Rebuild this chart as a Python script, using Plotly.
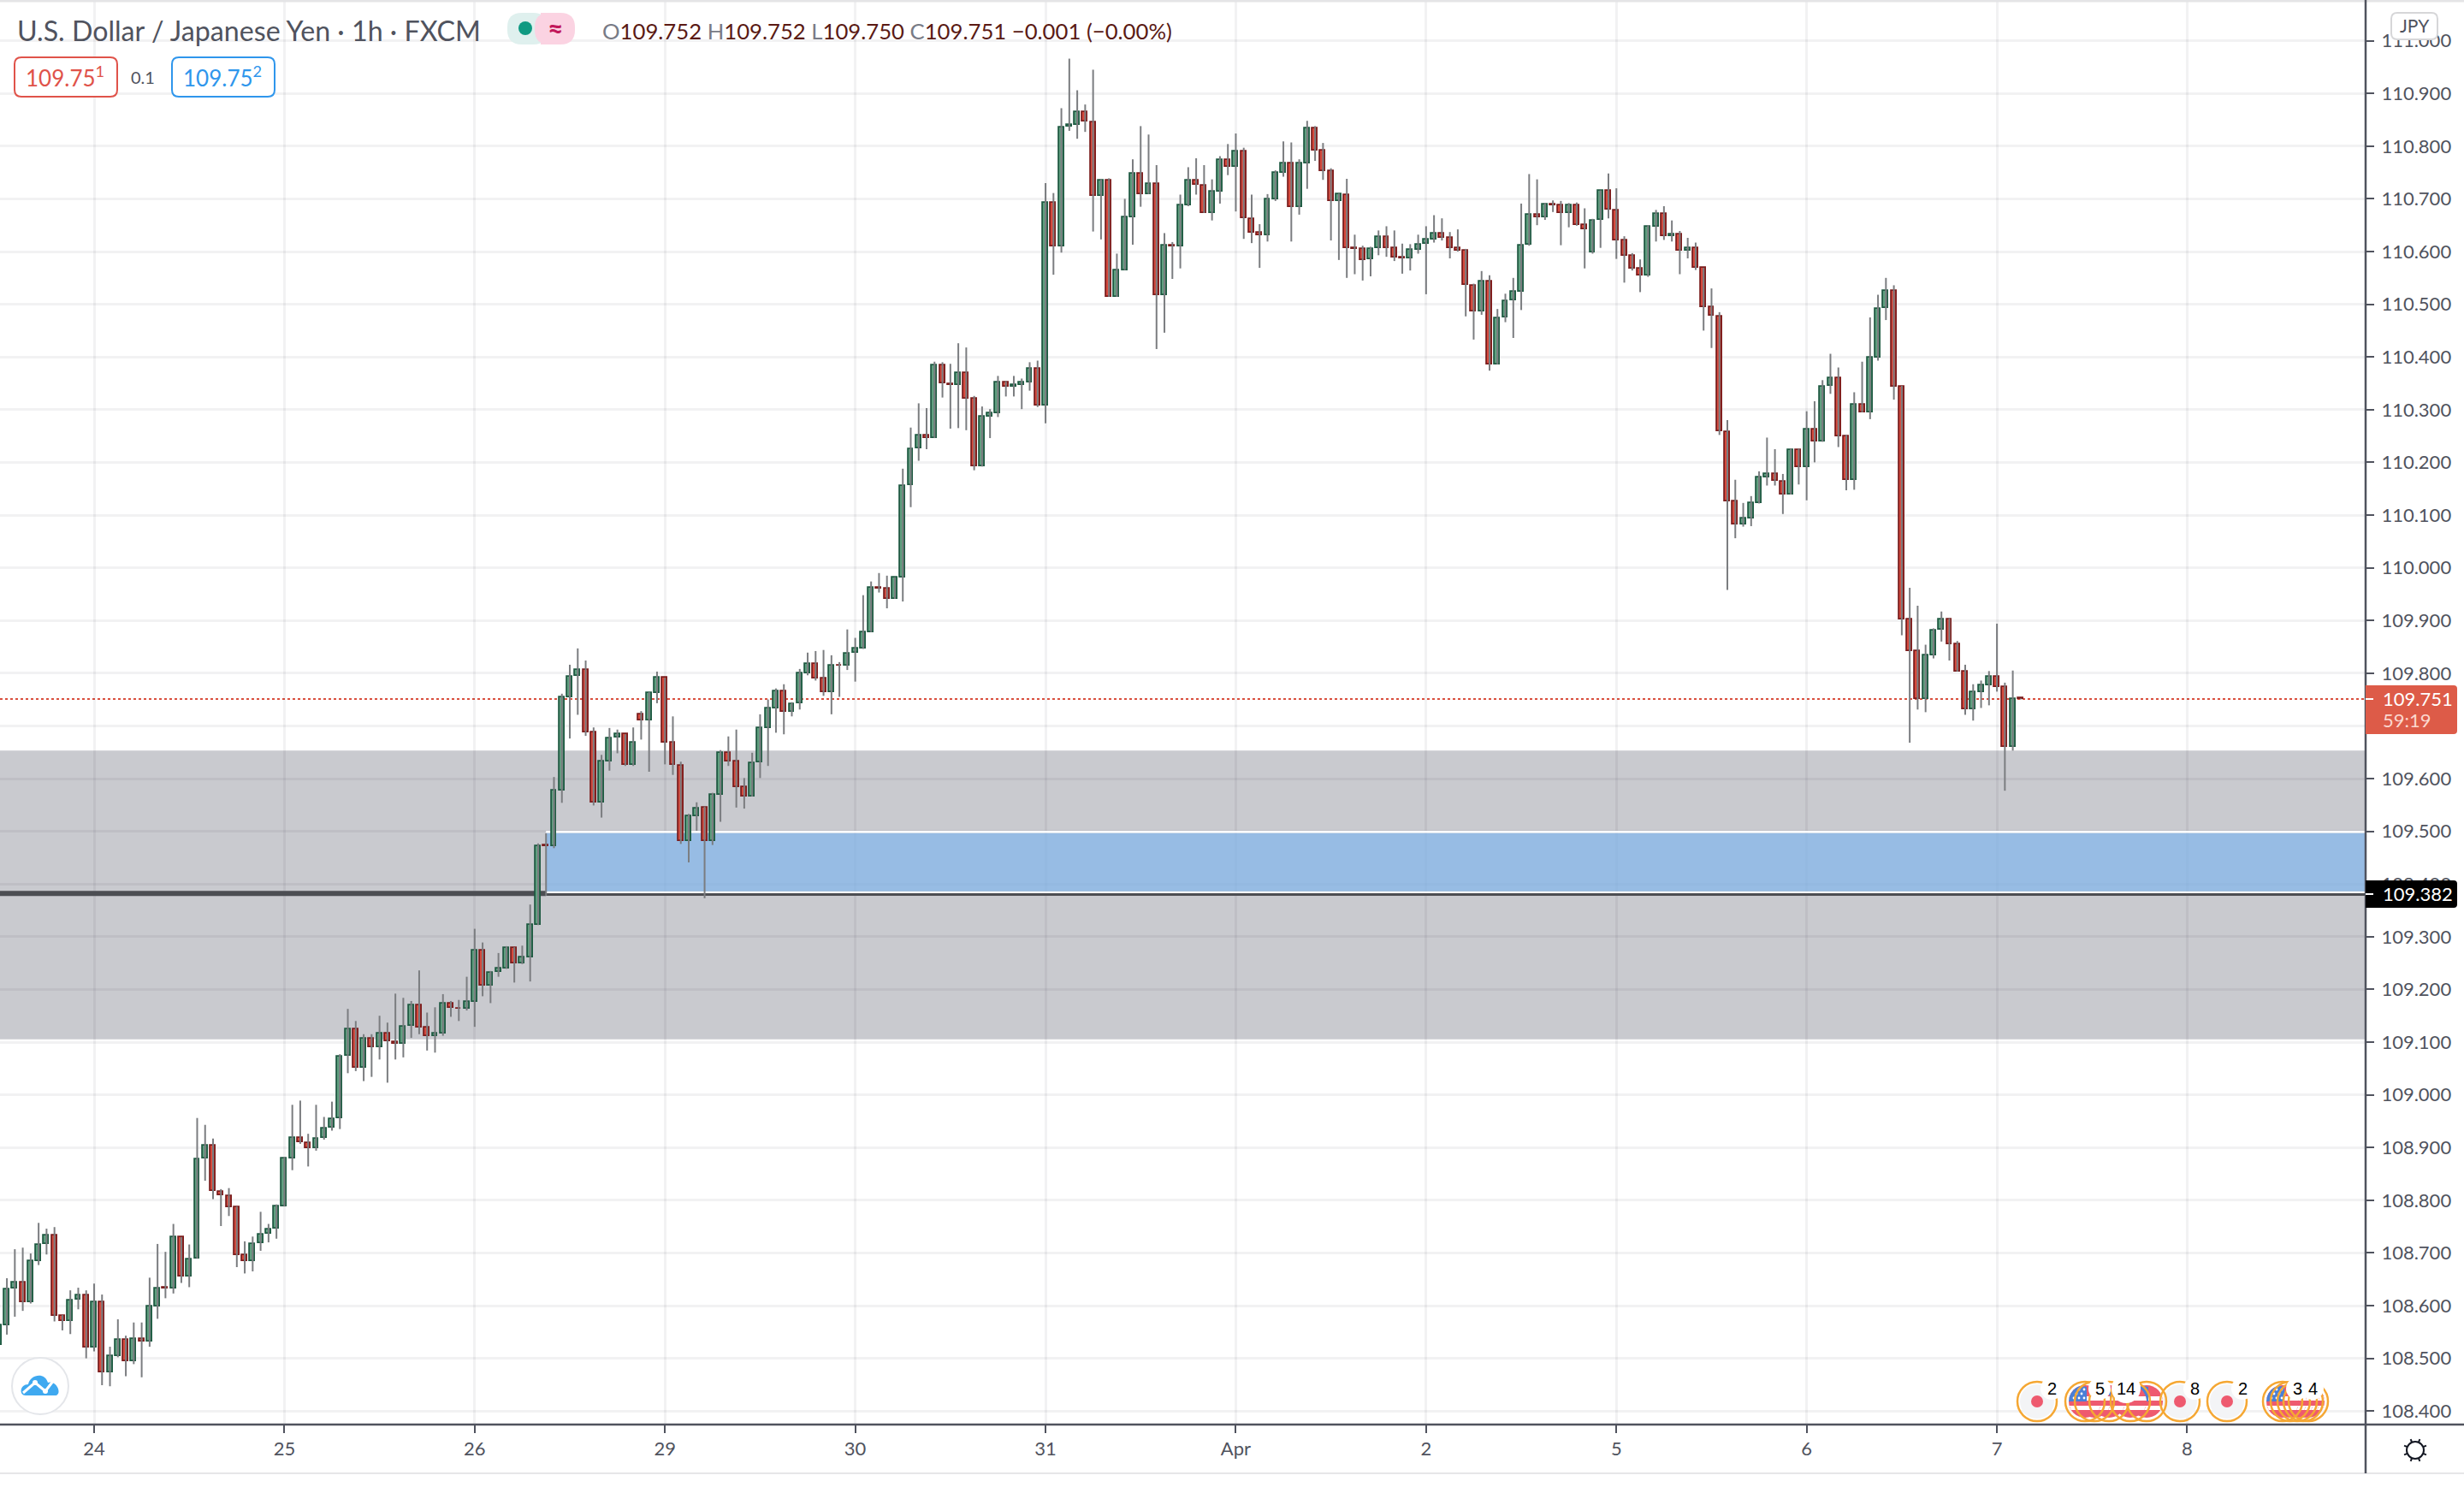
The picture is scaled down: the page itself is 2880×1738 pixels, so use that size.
import math
import plotly.graph_objects as go

# hourly USD/JPY bars, first bar sits 12 hours before the "24" tick
opens = [
    108.525,108.562,108.633,108.644,108.606,108.684,108.717,108.733,108.581,108.570,
    108.611,108.620,108.520,108.606,108.474,108.505,108.535,108.494,108.537,108.532,
    108.599,108.634,108.633,108.730,108.655,108.689,108.879,108.904,108.816,108.808,
    108.786,108.695,108.684,108.718,108.736,108.746,108.788,108.879,108.919,108.909,
    108.898,108.918,108.937,108.956,109.074,109.125,109.051,109.106,109.090,109.117,
    109.100,109.097,109.131,109.170,109.127,109.112,109.116,109.173,109.164,109.164,
    109.177,109.273,109.207,109.233,109.239,109.278,109.249,109.261,109.323,109.473,
    109.472,109.577,109.754,109.795,109.806,109.687,109.555,109.632,109.678,109.684,
    109.626,109.721,109.711,109.762,109.791,109.668,109.625,109.481,109.529,109.545,
    109.481,109.569,109.648,109.632,109.583,109.566,109.631,109.696,109.733,109.765,
    109.727,109.743,109.800,109.817,109.790,109.764,109.815,109.814,109.838,109.847,
    109.878,109.962,109.960,109.941,109.982,110.157,110.226,110.251,110.246,110.384,
    110.349,110.347,110.369,110.321,110.192,110.287,110.294,110.351,110.343,110.346,
    110.352,110.377,110.307,110.692,110.609,110.837,110.841,110.865,110.845,110.705,
    110.734,110.514,110.565,110.665,110.747,110.709,110.729,110.518,110.611,110.609,
    110.688,110.734,110.725,110.673,110.714,110.773,110.760,110.790,110.662,110.636,
    110.631,110.699,110.750,110.767,110.685,110.768,110.834,110.791,110.752,110.696,
    110.707,110.607,110.605,110.585,110.606,110.627,110.606,110.589,110.587,110.604,
    110.614,110.623,110.634,110.626,110.606,110.601,110.535,110.487,110.543,110.386,
    110.475,110.508,110.524,110.613,110.670,110.665,110.689,110.687,110.673,110.688,
    110.650,110.598,110.660,110.716,110.678,110.621,110.592,110.567,110.554,110.647,
    110.671,110.629,110.632,110.602,110.607,110.569,110.494,110.477,110.258,110.126,
    110.082,110.094,110.123,110.172,110.178,110.164,110.139,110.224,110.191,110.262,
    110.239,110.345,110.359,110.249,110.167,110.310,110.295,110.398,110.493,110.525,
    110.343,109.902,109.842,109.751,109.834,109.882,109.902,109.855,109.803,109.731,
    109.764,109.777,109.794,109.773,109.660,109.752,
]
highs = [
    108.565,108.652,108.707,108.710,108.699,108.757,108.746,108.749,108.582,108.629,
    108.634,108.629,108.642,108.621,108.522,108.574,108.543,108.568,108.568,108.653,
    108.717,108.702,108.755,108.730,108.716,108.956,108.943,108.917,108.821,108.823,
    108.788,108.722,108.731,108.778,108.755,108.792,108.882,108.981,108.989,108.926,
    108.981,108.958,108.987,109.077,109.163,109.140,109.115,109.115,109.150,109.137,
    109.192,109.184,109.178,109.236,109.156,109.166,109.191,109.178,109.180,109.224,
    109.315,109.289,109.235,109.269,109.282,109.280,109.283,109.361,109.477,109.496,
    109.603,109.761,109.816,109.847,109.824,109.697,109.645,109.696,109.693,109.684,
    109.697,109.728,109.764,109.803,109.791,109.718,109.632,109.533,109.555,109.547,
    109.573,109.654,109.680,109.693,109.601,109.649,109.722,109.750,109.771,109.779,
    109.745,109.808,109.839,109.842,109.844,109.834,109.821,109.883,109.867,109.948,
    109.974,109.990,109.985,109.982,110.188,110.266,110.312,110.303,110.391,110.390,
    110.387,110.426,110.418,110.326,110.306,110.301,110.364,110.354,110.364,110.359,
    110.390,110.393,110.730,110.711,110.872,110.966,110.906,110.879,110.945,110.737,
    110.739,110.596,110.700,110.775,110.838,110.822,110.764,110.635,110.618,110.708,
    110.760,110.777,110.764,110.737,110.781,110.804,110.824,110.797,110.708,110.652,
    110.709,110.754,110.809,110.807,110.775,110.848,110.838,110.806,110.758,110.710,
    110.738,110.632,110.611,110.609,110.640,110.648,110.640,110.615,110.614,110.632,
    110.648,110.669,110.663,110.637,110.642,110.605,110.539,110.563,110.555,110.491,
    110.520,110.550,110.691,110.747,110.737,110.692,110.697,110.696,110.692,110.693,
    110.682,110.662,110.716,110.748,110.720,110.629,110.597,110.585,110.650,110.679,
    110.686,110.659,110.639,110.626,110.617,110.569,110.530,110.485,110.280,110.167,
    110.123,110.136,110.183,110.247,110.225,110.178,110.226,110.226,110.297,110.316,
    110.356,110.406,110.380,110.252,110.333,110.391,110.475,110.518,110.550,110.536,
    110.345,109.962,109.928,109.854,109.885,109.917,109.904,109.861,109.816,109.779,
    109.786,109.804,109.894,109.782,109.805,109.752,
]
lows = [
    108.500,108.545,108.579,108.590,108.604,108.677,108.697,108.570,108.553,108.546,
    108.593,108.500,108.513,108.449,108.447,108.502,108.466,108.489,108.464,108.522,
    108.575,108.614,108.623,108.643,108.635,108.689,108.837,108.802,108.751,108.770,
    108.673,108.661,108.665,108.704,108.720,108.727,108.788,108.857,108.907,108.864,
    108.894,108.915,108.932,108.935,109.041,109.045,109.026,109.034,109.067,109.023,
    109.067,109.071,109.108,109.115,109.084,109.080,109.112,109.148,109.140,109.160,
    109.129,109.187,109.174,109.224,109.239,109.213,109.248,109.215,109.322,109.378,
    109.468,109.554,109.676,109.721,109.681,109.549,109.526,109.615,109.648,109.624,
    109.624,109.674,109.613,109.743,109.627,109.607,109.476,109.441,109.501,109.373,
    109.474,109.518,109.624,109.545,109.543,109.566,109.601,109.624,109.687,109.684,
    109.718,109.731,109.796,109.786,109.757,109.722,109.755,109.806,109.784,109.846,
    109.878,109.953,109.923,109.941,109.936,110.115,110.203,110.225,110.246,110.323,
    110.264,110.265,110.261,110.185,110.192,110.246,110.286,110.325,110.325,110.301,
    110.336,110.305,110.274,110.556,110.598,110.829,110.814,110.827,110.638,110.623,
    110.514,110.514,110.565,110.613,110.685,110.709,110.415,110.446,110.548,110.568,
    110.686,110.708,110.673,110.659,110.691,110.745,110.676,110.624,110.616,110.569,
    110.619,110.696,110.742,110.619,110.670,110.719,110.772,110.736,110.621,110.584,
    110.550,110.557,110.545,110.553,110.593,110.590,110.582,110.558,110.564,110.596,
    110.519,110.617,110.621,110.587,110.600,110.477,110.433,110.480,110.374,110.386,
    110.466,110.436,110.489,110.611,110.650,110.660,110.675,110.612,110.646,110.649,
    110.568,110.596,110.607,110.663,110.586,110.541,110.564,110.523,110.552,110.619,
    110.622,110.619,110.557,110.587,110.565,110.450,110.417,110.252,109.958,110.056,
    110.078,110.079,110.122,110.156,110.156,110.102,110.139,110.158,110.128,110.200,
    110.239,110.330,110.229,110.147,110.148,110.295,110.282,110.393,110.470,110.319,
    109.872,109.668,109.731,109.726,109.828,109.860,109.824,109.803,109.721,109.710,
    109.734,109.739,109.765,109.577,109.653,109.750,
]
closes = [
    108.562,108.631,108.644,108.606,108.684,108.716,108.733,108.581,108.570,108.610,
    108.620,108.520,108.606,108.474,108.504,108.535,108.494,108.537,108.532,108.599,
    108.633,108.632,108.730,108.655,108.688,108.878,108.904,108.817,108.809,108.786,
    108.695,108.684,108.717,108.735,108.745,108.788,108.879,108.919,108.910,108.899,
    108.917,108.936,108.954,109.073,109.125,109.051,109.106,109.090,109.117,109.102,
    109.097,109.130,109.170,109.128,109.112,109.116,109.173,109.165,109.163,109.176,
    109.273,109.207,109.232,109.239,109.278,109.250,109.260,109.323,109.471,109.471,
    109.577,109.754,109.794,109.806,109.688,109.555,109.632,109.677,109.684,109.626,
    109.668,109.711,109.762,109.791,109.668,109.626,109.481,109.528,109.544,109.481,
    109.569,109.648,109.632,109.583,109.566,109.630,109.696,109.733,109.765,109.727,
    109.742,109.799,109.817,109.790,109.764,109.815,109.814,109.837,109.846,109.878,
    109.962,109.960,109.941,109.981,110.156,110.225,110.251,110.246,110.384,110.350,
    110.347,110.369,110.321,110.192,110.287,110.293,110.351,110.343,110.346,110.351,
    110.377,110.307,110.692,110.609,110.835,110.840,110.865,110.846,110.705,110.734,
    110.514,110.564,110.665,110.747,110.709,110.729,110.518,110.611,110.609,110.687,
    110.734,110.726,110.673,110.713,110.773,110.760,110.790,110.663,110.636,110.631,
    110.699,110.750,110.767,110.685,110.767,110.834,110.792,110.753,110.696,110.708,
    110.607,110.605,110.584,110.605,110.627,110.607,110.589,110.587,110.603,110.613,
    110.623,110.634,110.626,110.607,110.602,110.536,110.487,110.543,110.386,110.474,
    110.506,110.524,110.612,110.670,110.665,110.689,110.688,110.673,110.688,110.651,
    110.642,110.659,110.716,110.679,110.621,110.592,110.568,110.554,110.647,110.671,
    110.629,110.632,110.602,110.607,110.569,110.495,110.478,110.259,110.126,110.082,
    110.093,110.122,110.171,110.178,110.165,110.139,110.224,110.191,110.262,110.239,
    110.344,110.359,110.249,110.167,110.310,110.295,110.398,110.492,110.525,110.344,
    109.902,109.842,109.751,109.833,109.881,109.902,109.855,109.803,109.731,109.764,
    109.777,109.794,109.774,109.660,109.751,109.751,
]
first_bar = -12

day_ticks = [0, 24, 48, 72, 96, 120, 144, 168, 192, 216, 240, 264]
day_labels = ["24", "25", "26", "29", "30", "31", "Apr", "2", "5", "6", "7", "8"]
price_ticks = [108.4 + 0.1 * n for n in range(27)]

last_price = 109.751
level_price = 109.382
level_start_bar = 57
band_top = 109.653
band_bottom = 109.104
zone_top = 109.497
zone_bottom = 109.386

FONT = "Lato"
AXIS = "#50535e"
# translucent so the lines read darker inside the grey band, as in the original
GRID = "rgba(20,20,40,0.055)"
W, H = 2880, 1738
AX_X, AX_Y = 2765, 1665
Y_111 = 47.6


def fx(px):
    return px / W


def fy(py):
    return 1 - py / H


def paper_line(x0, y0, x1, y1, color, width=2, dash="solid", layer="above"):
    return dict(type="line", xref="paper", yref="paper", x0=fx(x0), y0=fy(y0), x1=fx(x1), y1=fy(y1),
                line=dict(color=color, width=width, dash=dash), layer=layer)


def circle(cx, cy, r, fill="rgba(0,0,0,0)", color="rgba(0,0,0,0)", width=0):
    return dict(type="circle", xref="paper", yref="paper", x0=fx(cx - r), x1=fx(cx + r),
                y0=fy(cy + r), y1=fy(cy - r), fillcolor=fill, line=dict(color=color, width=width), layer="above")


def path(d, fill="rgba(0,0,0,0)", color="rgba(0,0,0,0)", width=0):
    return dict(type="path", xref="paper", yref="paper", path=d, fillcolor=fill,
                line=dict(color=color, width=width), layer="above")


def pt(x, y):
    return f"{fx(x):.6f},{fy(y):.6f}"


def rounded(x0, y0, x1, y1, r, square_left=False):
    rl = 0 if square_left else r
    return (f"M {pt(x0 + rl, y0)} L {pt(x1 - r, y0)} Q {pt(x1, y0)} {pt(x1, y0 + r)} "
            f"L {pt(x1, y1 - r)} Q {pt(x1, y1)} {pt(x1 - r, y1)} L {pt(x0 + rl, y1)} "
            f"Q {pt(x0, y1)} {pt(x0, y1 - rl)} L {pt(x0, y0 + rl)} Q {pt(x0, y0)} {pt(x0 + rl, y0)} Z")


def polygon(points):
    return "M " + " L ".join(pt(x, y) for x, y in points) + " Z"


def label(x, y, text, size, color, anchor="left", family=FONT):
    return dict(xref="paper", yref="paper", x=fx(x), y=fy(y), text=text, showarrow=False,
                xanchor=anchor, yanchor="middle", font=dict(family=family, size=size, color=color))


def us_flag(cx, cy, r=19, stars=False):
    out = [circle(cx, cy, r, fill="#ee5a6f")]
    for d in (-6, 5):
        half = math.sqrt(r * r - d * d)
        half2 = math.sqrt(max(r * r - (d + 5) ** 2, 0))
        out.append(path(polygon([(cx - half, cy + d), (cx + half, cy + d), (cx + half2, cy + d + 5), (cx - half2, cy + d + 5)]),
                        fill="#ffffff"))
    arc = [(cx + r * math.cos(a), cy + r * math.sin(a)) for a in [math.pi + k * math.pi / 12 for k in range(7)]]
    out.append(path(polygon(arc[:6] + [(cx + 2, cy - r + 2), (cx + 2, cy), (cx - r, cy)]), fill="#4a7fd6"))
    if stars:
        for sx, sy in [(-13, -4), (-7, -4), (-1, -4), (-10, -9), (-4, -9), (-7, -14), (-1, -14)]:
            out.append(circle(cx + sx, cy + sy, 1.4, fill="#ffffff"))
    return out


def ring(cx, cy, r=23):
    return circle(cx, cy, r, color="#f5a733", width=2.5)


bar_index = list(range(first_bar, first_bar + len(opens)))

wick_x, wick_y = [], []
for i, hi, lo in zip(bar_index, highs, lows):
    wick_x += [i, i, None]
    wick_y += [lo, hi, None]

up = [k for k in range(len(opens)) if closes[k] >= opens[k]]
down = [k for k in range(len(opens)) if closes[k] < opens[k]]

fig = go.Figure()
fig.add_trace(go.Scatter(x=wick_x, y=wick_y, mode="lines", line=dict(color="#7b7d80", width=2),
                         hoverinfo="skip", showlegend=False))
fig.add_trace(go.Bar(x=[bar_index[k] for k in up], base=[opens[k] for k in up],
                     y=[closes[k] - opens[k] for k in up], width=0.64,
                     marker=dict(color="#5f9f7f", line=dict(color="#1f5a42", width=1.8)), showlegend=False))
fig.add_trace(go.Bar(x=[bar_index[k] for k in down], base=[closes[k] for k in down],
                     y=[opens[k] - closes[k] for k in down], width=0.64,
                     marker=dict(color="#d6493c", line=dict(color="#7b1c1c", width=1.8)), showlegend=False))


def band_shape(y0, y1, fill):
    return dict(type="rect", xref="paper", yref="y", x0=0, x1=AX_X / W, y0=y0, y1=y1,
                fillcolor=fill, line=dict(width=0), layer="between")


def level_shape(x0, x1, xref, y, color, width, dash="solid"):
    return dict(type="line", xref=xref, yref="y", x0=x0, x1=x1, y0=y, y1=y,
                line=dict(color=color, width=width, dash=dash), layer="between")


x_left = -110 / 9.267
x_right = (AX_X - 110) / 9.267
shapes = [
    band_shape(band_bottom, band_top, "rgba(120,123,134,0.4)"),
    level_shape(0, AX_X / W, "paper", band_bottom - 0.001, "#ffffff", 3),
    dict(type="rect", xref="x", yref="y", x0=level_start_bar, x1=x_right, y0=zone_bottom, y1=zone_top,
         fillcolor="rgba(130,183,237,0.7)", line=dict(width=0), layer="between"),
    level_shape(level_start_bar, x_right, "x", zone_top + 0.002, "#ffffff", 2.5),
    level_shape(level_start_bar, x_right, "x", zone_bottom - 0.002, "#ffffff", 2),
    level_shape(x_left, level_start_bar, "x", level_price, "#4c4e53", 6),
    level_shape(level_start_bar, x_right, "x", level_price - 0.002, "#4c4e53", 3),
    level_shape(0, AX_X / W, "paper", last_price, "#d9503f", 2, "dot"),
    # frame pieces the axes do not reach
    paper_line(0, 1, W, 1, "#e4e4e6", 3),
    paper_line(0, 1722, W, 1722, "#e6e6e8", 2),
    paper_line(0, AX_Y, W, AX_Y, AXIS, 2.5),
    paper_line(AX_X, 0, AX_X, 1722, AXIS, 2.5),
    # currency button
    path(rounded(2795, 15, 2849, 46, 7), fill="#ffffff", color="#d6d6d8", width=2),
    # price tags
    path(rounded(2765, 801, 2872, 858, 4, square_left=True), fill="#dd5b48"),
    paper_line(2765, 817, 2774, 817, "#ffffff", 2),
    path(rounded(2765, 1029, 2872, 1061, 4, square_left=True), fill="#000000"),
    paper_line(2765, 1045, 2774, 1045, "#ffffff", 2),
    # bid / ask boxes
    path(rounded(17, 67, 137, 113, 8), fill="#ffffff", color="#e0534a", width=2),
    path(rounded(201, 67, 321, 113, 8), fill="#ffffff", color="#2f96ec", width=2),
    # status pills
    path(rounded(593, 15, 640, 52, 17), fill="#dff0ee"),
    path(rounded(625, 15, 672, 52, 17), fill="#fbd3e2"),
    path(f"M {pt(632, 15)} L {pt(650, 15)} L {pt(650, 52)} L {pt(632, 52)} Z", fill="#fbd3e2"),
    circle(614, 33, 8, fill="#0f9a82"),
    # logo
    circle(47, 1620, 33, fill="#ffffff", color="#e4e6ea", width=2),
    path(f"M {pt(30, 1631)} C {pt(22, 1631)} {pt(23, 1618)} {pt(33, 1618)} C {pt(35, 1607)} {pt(52, 1603)} {pt(56, 1616)} "
         f"C {pt(66, 1612)} {pt(74, 1631)} {pt(64, 1631)} Z", fill="#3fa9f0"),
    path(f"M {pt(27, 1628)} L {pt(41, 1616)} L {pt(53, 1626)} L {pt(63, 1613)}", color="#ffffff", width=3),
    circle(41, 1616, 3, fill="#ffffff"),
    circle(53, 1626, 3, fill="#ffffff"),
    # settings gear
    circle(2823, 1695, 10, color="#131722", width=2),
]
for a in range(8):
    ang = a * math.pi / 4 + math.pi / 8
    shapes.append(paper_line(2823 + 10 * math.cos(ang), 1695 + 10 * math.sin(ang),
                             2823 + 14 * math.cos(ang), 1695 + 14 * math.sin(ang), "#131722", 2))

# calendar events along the bottom, leftmost flag of a cluster lies on top
jp_events = [2381, 2548, 2603]
us_events = [2437, 2448, 2465, 2490, 2509, 2668, 2677, 2685, 2692, 2698]
front_flags = [2437, 2668]
event_counts = [(2398, "2"), (2454, "5"), (2485, "14"), (2565, "8"), (2621, "2"), (2685, "3"), (2703, "4")]
for cx in reversed(us_events):
    shapes += us_flag(cx, 1638, stars=cx in front_flags)
for cx in jp_events:
    shapes.append(circle(cx, 1638, 20, fill="#f3f4f6"))
    shapes.append(circle(cx, 1638, 7, fill="#ee5a6f"))
for cx in us_events + jp_events:
    shapes.append(ring(cx, 1638))
for x, txt in event_counts:
    shapes.append(circle(x, 1623, 13 + 4 * (len(txt) - 1), fill="#ffffff"))

muted = "#787b86"
val = "#5a1a14"
ohlc = (f'<span style="color:{muted}">O</span>109.752 <span style="color:{muted}">H</span>109.752 '
        f'<span style="color:{muted}">L</span>109.750 <span style="color:{muted}">C</span>109.751 −0.001 (−0.00%)')
annotations = [
    label(18, 35, "U.S. Dollar / Japanese Yen · 1h · FXCM", 32.2, AXIS),
    label(649, 32, "<b>≈</b>", 32, "#c2185b", "center"),
    label(702, 36, ohlc, 25.7, val),
    label(76, 90, "109.75<sup>1</sup>", 26, "#e0534a", "center"),
    label(167, 90, "0.1", 20, AXIS, "center"),
    label(260, 90, "109.75<sup>2</sup>", 26, "#2f96ec", "center"),
    label(2822, 30, "JPY", 21, AXIS, "center"),
    label(2783, 816, "109.751", 22, "#ffffff"),
    label(2783, 842, "59:19", 22, "#fbd7cf"),
    label(2783, 1044, "109.382", 22, "#ffffff"),
]
for x, txt in event_counts:
    annotations.append(label(x, 1623, txt, 20, "#000000", "center", "Liberation Sans"))

fig.update_layout(
    width=W, height=H, margin=dict(l=0, r=0, t=0, b=0),
    paper_bgcolor="#ffffff", plot_bgcolor="#ffffff",
    barmode="overlay", bargap=0, showlegend=False,
    font=dict(family=FONT, color=AXIS, size=22),
    shapes=shapes, annotations=annotations,
    xaxis=dict(domain=[0, AX_X / W], range=[x_left, x_right], tickmode="array", tickvals=day_ticks,
               ticktext=day_labels, showgrid=True, gridcolor=GRID, gridwidth=2.5, zeroline=False,
               ticks="outside", ticklen=9, tickwidth=2, tickcolor=AXIS, showline=False,
               tickfont=dict(family=FONT, size=22, color=AXIS), anchor="y"),
    yaxis=dict(domain=[1 - AX_Y / H, 1], range=[111 - (AX_Y - Y_111) / 616, 111 + Y_111 / 616], side="right",
               tickmode="array", tickvals=price_ticks, ticktext=[f"{v:.3f}" for v in price_ticks],
               showgrid=True, gridcolor=GRID, gridwidth=2.5, zeroline=False,
               ticks="outside", ticklen=9, tickwidth=2, tickcolor=AXIS, showline=False,
               ticklabelstandoff=4, tickfont=dict(family=FONT, size=22, color=AXIS), anchor="x"),
)

fig.write_html("out.html", config=dict(displayModeBar=False),
               post_script="document.body.style.margin='0';document.body.style.overflow='hidden';")
